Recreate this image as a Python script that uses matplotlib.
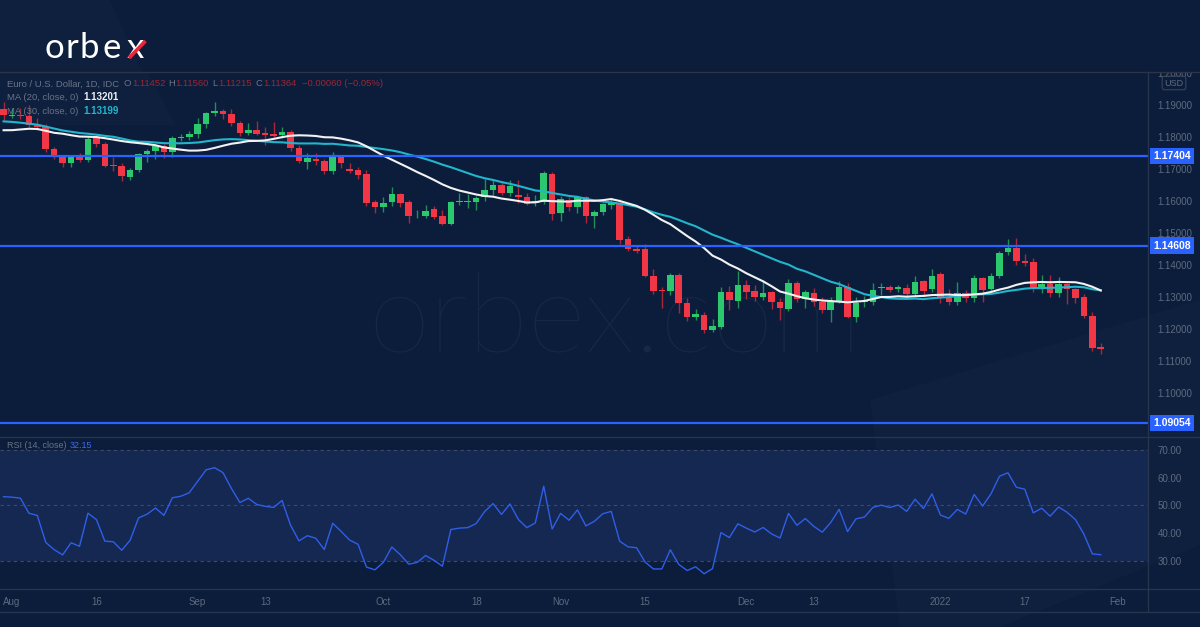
import numpy as np
import pandas as pd
import matplotlib
matplotlib.use('Agg')
import matplotlib.pyplot as plt
from matplotlib import transforms
from matplotlib.patches import Polygon
from matplotlib.lines import Line2D

plt.rcParams['font.family'] = ['Liberation Sans', 'DejaVu Sans']

# EUR/USD daily candles, Jul 30 2021 .. Jan 28 2022 (index -1 .. 129)
opens = [1.1888,
         1.1866, 1.1870, 1.1867, 1.1836, 1.1832,
         1.1761, 1.1737, 1.1719, 1.1739, 1.1729,
         1.1796, 1.1778, 1.1712, 1.1710, 1.1676,
         1.1697, 1.1746, 1.1756, 1.1772, 1.1752,
         1.1797, 1.1800, 1.1809, 1.1840, 1.1875,
         1.1882, 1.1872, 1.1843, 1.1812, 1.1823,
         1.1811, 1.1808, 1.1805, 1.1817, 1.1766,
         1.1722, 1.1730, 1.1726, 1.1694, 1.1741,
         1.1700, 1.1697, 1.1684, 1.1597, 1.1581,
         1.1596, 1.1622, 1.1597, 1.1555, 1.1553,
         1.1574, 1.1553, 1.1528, 1.1597, 1.1598,
         1.1597, 1.1613, 1.1633, 1.1650, 1.1626,
         1.1619, 1.1612, 1.1595, 1.1597, 1.1684,
         1.1561, 1.1603, 1.1581, 1.1612, 1.1554,
         1.1565, 1.1587, 1.1594, 1.1481, 1.1449,
         1.1450, 1.1366, 1.1322, 1.1320, 1.1369,
         1.1281, 1.1237, 1.1244, 1.1198, 1.1206,
         1.1316, 1.1288, 1.1338, 1.1318, 1.1300,
         1.1315, 1.1285, 1.1263, 1.1343, 1.1294,
         1.1313, 1.1284, 1.1259, 1.1288, 1.1331,
         1.1238, 1.1284, 1.1284, 1.1328, 1.1330,
         1.1325, 1.1328, 1.1310, 1.1350, 1.1324,
         1.1371, 1.1297, 1.1285, 1.1312, 1.1296,
         1.1360, 1.1324, 1.1366, 1.1441, 1.1454,
         1.1414, 1.1409, 1.1325, 1.1342, 1.1312,
         1.1342, 1.1325, 1.1300, 1.1241, 1.11452]
highs = [1.1909,
         1.1892, 1.1891, 1.1900, 1.1859, 1.1840,
         1.1770, 1.1744, 1.1743, 1.1749, 1.1804,
         1.1806, 1.1784, 1.1738, 1.1719, 1.1703,
         1.1750, 1.1763, 1.1775, 1.1777, 1.1802,
         1.1810, 1.1818, 1.1859, 1.1877, 1.1910,
         1.1886, 1.1887, 1.1850, 1.1844, 1.1850,
         1.1830, 1.1847, 1.1832, 1.1823, 1.1775,
         1.1750, 1.1750, 1.1731, 1.1753, 1.1743,
         1.1718, 1.1706, 1.1697, 1.1603, 1.1612,
         1.1644, 1.1625, 1.1603, 1.1573, 1.1588,
         1.1585, 1.1572, 1.1599, 1.1625, 1.1622,
         1.1616, 1.1670, 1.1669, 1.1663, 1.1665,
         1.1666, 1.1625, 1.1620, 1.1694, 1.1691,
         1.1617, 1.1613, 1.1616, 1.1617, 1.1572,
         1.1593, 1.1610, 1.1606, 1.1490, 1.1462,
         1.1466, 1.1388, 1.1331, 1.1374, 1.1374,
         1.1296, 1.1264, 1.1253, 1.1231, 1.1331,
         1.1333, 1.1382, 1.1353, 1.1336, 1.1352,
         1.1318, 1.1297, 1.1355, 1.1350, 1.1322,
         1.1327, 1.1301, 1.1300, 1.1350, 1.1345,
         1.1300, 1.1304, 1.1345, 1.1344, 1.1338,
         1.1337, 1.1342, 1.1366, 1.1353, 1.1387,
         1.1377, 1.1324, 1.1346, 1.1322, 1.1368,
         1.1364, 1.1375, 1.1445, 1.1482, 1.1483,
         1.1434, 1.1422, 1.1369, 1.1369, 1.1363,
         1.1344, 1.1328, 1.1310, 1.1253, 1.11560]
lows = [1.1853,
        1.1860, 1.1855, 1.1832, 1.1823, 1.1753,
        1.1730, 1.1706, 1.1705, 1.1723, 1.1723,
        1.1770, 1.1706, 1.1695, 1.1664, 1.1665,
        1.1691, 1.1722, 1.1731, 1.1735, 1.1737,
        1.1788, 1.1791, 1.1797, 1.1829, 1.1866,
        1.1857, 1.1834, 1.1803, 1.1805, 1.1806,
        1.1775, 1.1800, 1.1798, 1.1755, 1.1718,
        1.1700, 1.1712, 1.1685, 1.1684, 1.1703,
        1.1688, 1.1670, 1.1585, 1.1562, 1.1565,
        1.1585, 1.1581, 1.1530, 1.1548, 1.1547,
        1.1545, 1.1524, 1.1524, 1.1587, 1.1578,
        1.1572, 1.1601, 1.1620, 1.1618, 1.1617,
        1.1595, 1.1587, 1.1584, 1.1590, 1.1541,
        1.1537, 1.1570, 1.1564, 1.1531, 1.1515,
        1.1557, 1.1574, 1.1467, 1.1443, 1.1436,
        1.1361, 1.1309, 1.1265, 1.1306, 1.1249,
        1.1226, 1.1228, 1.1186, 1.1190, 1.1200,
        1.1259, 1.1265, 1.1293, 1.1289, 1.1291,
        1.1263, 1.1228, 1.1256, 1.1285, 1.1266,
        1.1273, 1.1251, 1.1222, 1.1280, 1.1235,
        1.1222, 1.1269, 1.1274, 1.1305, 1.1315,
        1.1315, 1.1300, 1.1303, 1.1300, 1.1316,
        1.1281, 1.1274, 1.1274, 1.1285, 1.1284,
        1.1285, 1.1318, 1.1360, 1.1432, 1.1400,
        1.1397, 1.1316, 1.1312, 1.1300, 1.1301,
        1.1278, 1.1281, 1.1235, 1.1130, 1.11215]
closes = [1.1870,
          1.1869, 1.1867, 1.1836, 1.1831, 1.1761,
          1.1737, 1.1719, 1.1740, 1.1729, 1.1795,
          1.1778, 1.1710, 1.1708, 1.1677, 1.1697,
          1.1747, 1.1756, 1.1771, 1.1752, 1.1796,
          1.1800, 1.1809, 1.1840, 1.1875, 1.1882,
          1.1873, 1.1843, 1.1813, 1.1823, 1.1810,
          1.1806, 1.1804, 1.1817, 1.1766, 1.1724,
          1.1733, 1.1726, 1.1694, 1.1741, 1.1719,
          1.1694, 1.1681, 1.1594, 1.1581, 1.1594,
          1.1622, 1.1594, 1.1554, 1.1557, 1.1569,
          1.1551, 1.1528, 1.1597, 1.1600, 1.1601,
          1.1609, 1.1633, 1.1650, 1.1626, 1.1648,
          1.1612, 1.1591, 1.1600, 1.1688, 1.1559,
          1.1606, 1.1581, 1.1613, 1.1553, 1.1567,
          1.1590, 1.1597, 1.1478, 1.1449, 1.1445,
          1.1366, 1.1320, 1.1320, 1.1369, 1.1281,
          1.1237, 1.1247, 1.1197, 1.1210, 1.1316,
          1.1290, 1.1337, 1.1317, 1.1299, 1.1313,
          1.1285, 1.1267, 1.1343, 1.1294, 1.1316,
          1.1284, 1.1259, 1.1288, 1.1331, 1.1238,
          1.1282, 1.1288, 1.1322, 1.1330, 1.1322,
          1.1330, 1.1310, 1.1347, 1.1319, 1.1366,
          1.1297, 1.1285, 1.1312, 1.1297, 1.1360,
          1.1323, 1.1366, 1.1438, 1.1454, 1.1411,
          1.1405, 1.1325, 1.1341, 1.1312, 1.1342,
          1.1324, 1.1298, 1.1241, 1.1141, 1.11364]

# closes before the visible range (Jun 21 .. Jul 29), only feed the MAs / RSI
prior_closes = [1.1916, 1.1942, 1.1926, 1.1929, 1.1936, 1.1925, 1.1896, 1.1857,
                1.1848, 1.1865, 1.1866, 1.1823, 1.1791, 1.1845, 1.1876, 1.1861,
                1.1775, 1.1835, 1.1811, 1.1806, 1.1800, 1.1781, 1.1793, 1.1770,
                1.1771, 1.1800, 1.1817, 1.1844, 1.1888]

levels = [1.17404, 1.14608, 1.09054]
price_ticks = [1.10, 1.11, 1.12, 1.13, 1.14, 1.15, 1.16, 1.17, 1.18, 1.19, 1.20]
rsi_ticks = [30, 40, 50, 60, 70]
tick_pos = [0, 10, 22, 30, 44, 55, 65, 75, 87, 95, 110, 120, 131]
tick_labels = ['Aug', '16', 'Sep', '13', 'Oct', '18', 'Nov', '15', 'Dec', '13', '2022', '17', 'Feb']

BG = '#0b1d3b'
GRAY = '#5f6a7f'
UP = '#2bc86e'
DN = '#f23645'
LINE = '#26344d'

W, H = 1200, 627
fig = plt.figure(figsize=(12, 6.27), dpi=100, facecolor=BG)


def box(l, t, r, b):
    return [l / W, 1 - b / H, (r - l) / W, (b - t) / H]


def px(xp, yp):
    return xp / W, 1 - yp / H


# faint background shapes
fig.patches.append(Polygon([px(900, 627), px(1000, 627), px(1200, 545), px(1200, 300), px(870, 400)],
                           closed=True, transform=fig.transFigure, fc='#ffffff', alpha=0.015,
                           ec='none', zorder=-1))
fig.patches.append(Polygon([px(0, 0), px(110, 0), px(175, 125), px(0, 125)],
                           closed=True, transform=fig.transFigure, fc='#ffffff', alpha=0.015,
                           ec='none', zorder=-1))

ax = fig.add_axes(box(0, 72, 1148, 437))
rax = fig.add_axes(box(0, 437, 1148, 589), sharex=ax)
for a in (ax, rax):
    a.set_facecolor('none')
    for s in a.spines.values():
        s.set_visible(False)

o = np.array(opens)
h = np.array(highs)
l = np.array(lows)
c = np.array(closes)
xs = np.arange(len(c)) - 1
up = c >= o
body_col = np.where(up, UP, DN)
wick_col = np.where(up, '#1f8f56', '#a8283a')

ax.vlines(xs, l, h, colors=wick_col, lw=1, zorder=2)
ax.bar(xs, np.maximum(np.abs(c - o), 0.00005), bottom=np.minimum(o, c), width=0.78,
       color=body_col, linewidth=0, zorder=3)

allc = pd.Series(prior_closes + closes)
ma20 = allc.rolling(20).mean().values[len(prior_closes):]
ma30 = allc.rolling(30).mean().values[len(prior_closes):]
ax.plot(xs, ma30, color='#22b5cc', lw=1.5, zorder=4)
ax.plot(xs, ma20, color='#f2f2f2', lw=1.5, zorder=4)

for lv in levels:
    ax.axhline(lv, color='#2962ff', lw=1.6, zorder=5)

# watermark
ax.text(615 / W, 1 - 322 / H, 'orbex.com', transform=fig.transFigure, ha='center', va='center',
        fontsize=80, family=['Lato', 'DejaVu Sans'], fontweight='light', color='#ffffff',
        alpha=0.05, zorder=1)

ax.set_xlim((0 - 12) / 8.44, (1148 - 12) / 8.44)
ax.set_ylim(1.19 - (437 - 105) / 3200, 1.19 + (105 - 72) / 3200)
ax.yaxis.tick_right()
ax.set_yticks(price_ticks)
ax.set_yticklabels(['%.5f' % v for v in price_ticks])
ax.tick_params(axis='y', length=0, pad=7, labelcolor=GRAY, labelsize=7)
ax.tick_params(axis='x', length=0, labelbottom=False)

blend = transforms.blended_transform_factory(ax.transAxes, ax.transData)
for lv in levels:
    ax.text(1153 / 1148, lv, '%.5f' % lv, transform=blend, ha='left', va='center', color='white',
            fontsize=7.5, fontweight='bold', clip_on=False, zorder=6,
            bbox=dict(boxstyle='square,pad=0.3', fc='#2962ff', ec='none'))

# RSI (14) with Wilder smoothing
d = np.diff(allc.values)
g = np.clip(d, 0, None)
ls = np.clip(-d, 0, None)
rsi_all = np.full(len(allc), np.nan)
ag, al = g[:14].mean(), ls[:14].mean()
rsi_all[14] = 100 - 100 / (1 + ag / al)
for i in range(14, len(d)):
    ag = (ag * 13 + g[i]) / 14
    al = (al * 13 + ls[i]) / 14
    rsi_all[i + 1] = 100 - 100 / (1 + ag / al)
rsi = rsi_all[len(prior_closes):]

rax.axhspan(30, 70, color='#172a55', alpha=0.85, lw=0, zorder=0)
for lv in (70, 50, 30):
    rax.axhline(lv, color='#3d4b66', lw=0.8, ls=(0, (3, 3)), zorder=1)
rax.plot(xs, rsi, color='#2f5ee8', lw=1, zorder=3)
rax.set_ylim(30 - (589 - 561) / 2.76, 70 + (450 - 437) / 2.76)
rax.yaxis.tick_right()
rax.set_yticks(rsi_ticks)
rax.set_yticklabels(['%.2f' % v for v in rsi_ticks])
rax.tick_params(axis='y', length=0, pad=7, labelcolor=GRAY, labelsize=7)
rax.set_xticks(tick_pos)
rax.set_xticklabels(tick_labels)
rax.tick_params(axis='x', length=0, pad=6, labelcolor=GRAY, labelsize=7)

# header band hiding the clipped top price label
hdr = fig.add_axes(box(0, 0, 1200, 72), zorder=10)
hdr.set_facecolor(BG)
hdr.set_xticks([])
hdr.set_yticks([])
for s in hdr.spines.values():
    s.set_visible(False)
hdr.add_patch(Polygon([px(0, 0), px(110, 0), px(142, 72), px(0, 72)], closed=True,
                      transform=fig.transFigure, fc='#ffffff', alpha=0.015, ec='none'))

# frame lines
for y0, c0 in ((72, '#2e3446'), (437, LINE), (589, LINE), (612, LINE)):
    fig.add_artist(Line2D([0, 1], [1 - y0 / H] * 2, color=c0, lw=1, zorder=11))
fig.add_artist(Line2D([1148 / W] * 2, [1 - 72 / H, 1 - 612 / H], color=LINE, lw=1, zorder=11))

# logo, letters placed like the brand mark
base = 58
for ch, xl in zip('orbex', [44, 66, 80, 103, 127]):
    fig.text(*px(xl, base), ch, color='white', fontsize=25, family=['Lato', 'DejaVu Sans'],
             va='baseline', ha='left', zorder=12)
fig.add_artist(Line2D([px(129, 0)[0], px(145.5, 0)[0]], [px(0, base)[1], px(0, base - 17)[1]],
                      color='#e8283a', lw=2.6, solid_capstyle='butt', zorder=13))


# legend texts
def lt(xp, yp, s, col, bold=False, size=6.8):
    fig.text(*px(xp, yp), s, color=col, fontsize=size, va='center', ha='left',
             fontweight='bold' if bold else 'normal', zorder=4)


RED_T = '#9c2634'
LG = '#6a7386'
lt(7, 84, 'Euro / U.S. Dollar, 1D, IDC', LG)
lt(124, 84, 'O', LG)
lt(132, 84, '1.11452', RED_T)
lt(168, 84, 'H', LG)
lt(175, 84, '1.11560', RED_T)
lt(212, 84, 'L', LG)
lt(218, 84, '1.11215', RED_T)
lt(256, 84, 'C', LG)
lt(263, 84, '1.11364', RED_T)
lt(302, 84, '\u22120.00060 (\u22120.05%)', RED_T)
lt(7, 97, 'MA (20, close, 0)', LG)
lt(83, 97, '1.13201', '#eef0f3', bold=True, size=7)
lt(7, 111, 'MA (30, close, 0)', LG)
lt(83, 111, '1.13199', '#22b5cc', bold=True, size=7)
lt(7, 446, 'RSI (14, close)', LG, size=6.5)
lt(70, 446, '32.15', '#3b6cf5', size=6.5)

fig.text(*px(1174, 83), 'USD', color=GRAY, fontsize=6.5, ha='center', va='center', zorder=12,
         bbox=dict(boxstyle='round,pad=0.25', fc='none', ec='#3a4459', lw=0.8))

fig.savefig('out.png', dpi=100, facecolor=BG)
